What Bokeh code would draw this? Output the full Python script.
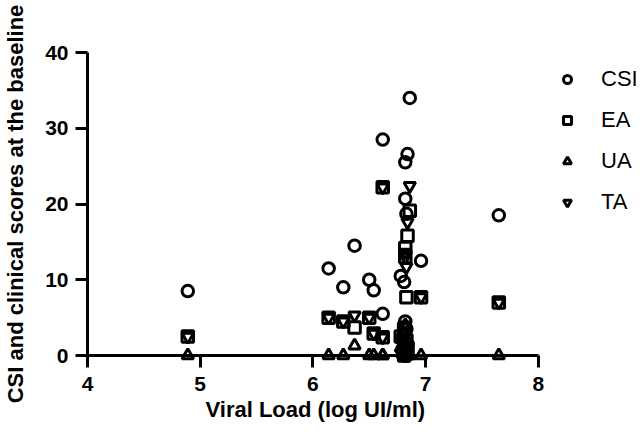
from bokeh.plotting import figure
from bokeh.models import (Range1d, FixedTicker, Legend, LegendItem,
                          ColumnDataSource, Title)
from bokeh.embed import file_html
from bokeh.resources import INLINE

# Data (one entry per patient)
viral_load = [4.89, 6.14, 6.27, 6.37, 6.50, 6.54, 6.62, 6.62, 6.86, 6.84, 6.82,
              6.82, 6.83, 6.96, 6.78, 6.81, 6.82, 6.83, 6.80, 6.84, 6.81, 7.65]
csi = [8.5, 11.5, 9.0, 14.5, 10.0, 8.6, 5.5, 28.5, 34.0, 26.6, 25.5,
       20.7, 18.7, 12.5, 10.5, 9.7, 4.5, 3.5, 2.5, 1.5, 0.5, 18.5]
ea = [2.5, 5.0, 4.5, 3.7, 5.0, 2.9, 2.4, 22.2, 19.1, 15.8, 14.2,
      13.0, 7.7, 7.7, 2.5, 3.5, 1.5, 2.0, 0.5, 1.0, 0.0, 7.0]
ua = [0.0, 0.0, 0.0, 1.3, 0.0, 0.0, 0.0, 0.0, 0.0, 0.0, 0.0,
      0.0, 0.0, 0.0, 1.0, 3.0, 4.0, 0.0, 2.0, 0.0, 0.0, 0.0]
ta = [2.5, 5.0, 4.5, 5.3, 5.0, 2.9, 2.4, 22.2, 22.4, 17.6, 13.6,
      13.0, 11.7, 7.7, 2.0, 4.0, 3.0, 1.0, 0.5, 0.0, 0.0, 7.0]

series_names = ["CSI", "EA", "UA", "TA"]
series_markers = ["circle", "square", "triangle", "inverted_triangle"]
x_ticks = [4, 5, 6, 7, 8]
y_ticks = [0, 10, 20, 30, 40]
x_title = "Viral Load (log UI/ml)"
y_title = "CSI and clinical scores at the baseline"

FONT = "Liberation Sans"

p = figure(width=644, height=434, output_backend="svg", toolbar_location=None,
           x_range=Range1d(4, 8.943), y_range=Range1d(0, 40),
           min_border_left=82, min_border_top=52, min_border_bottom=79,
           min_border_right=0,
           y_axis_label=y_title)
p.outline_line_color = None
p.grid.visible = False
p.background_fill_color = "white"
p.border_fill_color = "white"

source = ColumnDataSource(dict(x=viral_load, CSI=csi, EA=ea, UA=ua, TA=ta))

renderers = []
for name, marker in zip(series_names, series_markers):
    r = p.scatter("x", name, source=source, marker=marker, size=11.5,
                  line_color="black", line_width=3, fill_color=None,
                  level="overlay")
    renderers.append(r)

for ax in (p.xaxis[0], p.yaxis[0]):
    ax.axis_line_width = 3
    ax.axis_line_color = "black"
    ax.major_tick_line_width = 3
    ax.major_tick_line_color = "black"
    ax.major_tick_out = 12
    ax.major_tick_in = 0
    ax.minor_tick_out = 0
    ax.minor_tick_in = 0
    ax.major_label_text_font = FONT
    ax.major_label_text_font_style = "bold"
    ax.major_label_text_font_size = "21px"
    ax.major_label_text_color = "black"
    ax.axis_label_text_font = FONT
    ax.axis_label_text_font_style = "bold"
    ax.axis_label_text_font_size = "22px"
    ax.axis_label_text_color = "black"

p.xaxis[0].ticker = FixedTicker(ticks=x_ticks)
p.xaxis[0].bounds = (4, 8)
p.xaxis[0].major_label_standoff = 9

p.yaxis[0].ticker = FixedTicker(ticks=y_ticks)
p.yaxis[0].bounds = (0, 40)
p.yaxis[0].major_label_standoff = 7
p.yaxis[0].axis_label_standoff = 14

# x-axis title, centred under the 4..8 axis line
xt = Title(text=x_title, align="left", offset=118, standoff=7,
           vertical_align="top", text_font=FONT, text_font_style="bold",
           text_font_size="22px", text_color="black")
p.add_layout(xt, "below")

items = [LegendItem(label=n, renderers=[r]) for n, r in zip(series_names, renderers)]
legend = Legend(items=items, location=(470, 140))
legend.label_text_font = FONT
legend.label_text_font_size = "22px"
legend.label_text_color = "black"
legend.glyph_width = 20
legend.glyph_height = 24
legend.label_standoff = 24
legend.spacing = 15
legend.padding = 10
legend.margin = 0
legend.border_line_color = None
legend.background_fill_alpha = 0
p.add_layout(legend)

open("out.html", "w").write(file_html(p, INLINE))
